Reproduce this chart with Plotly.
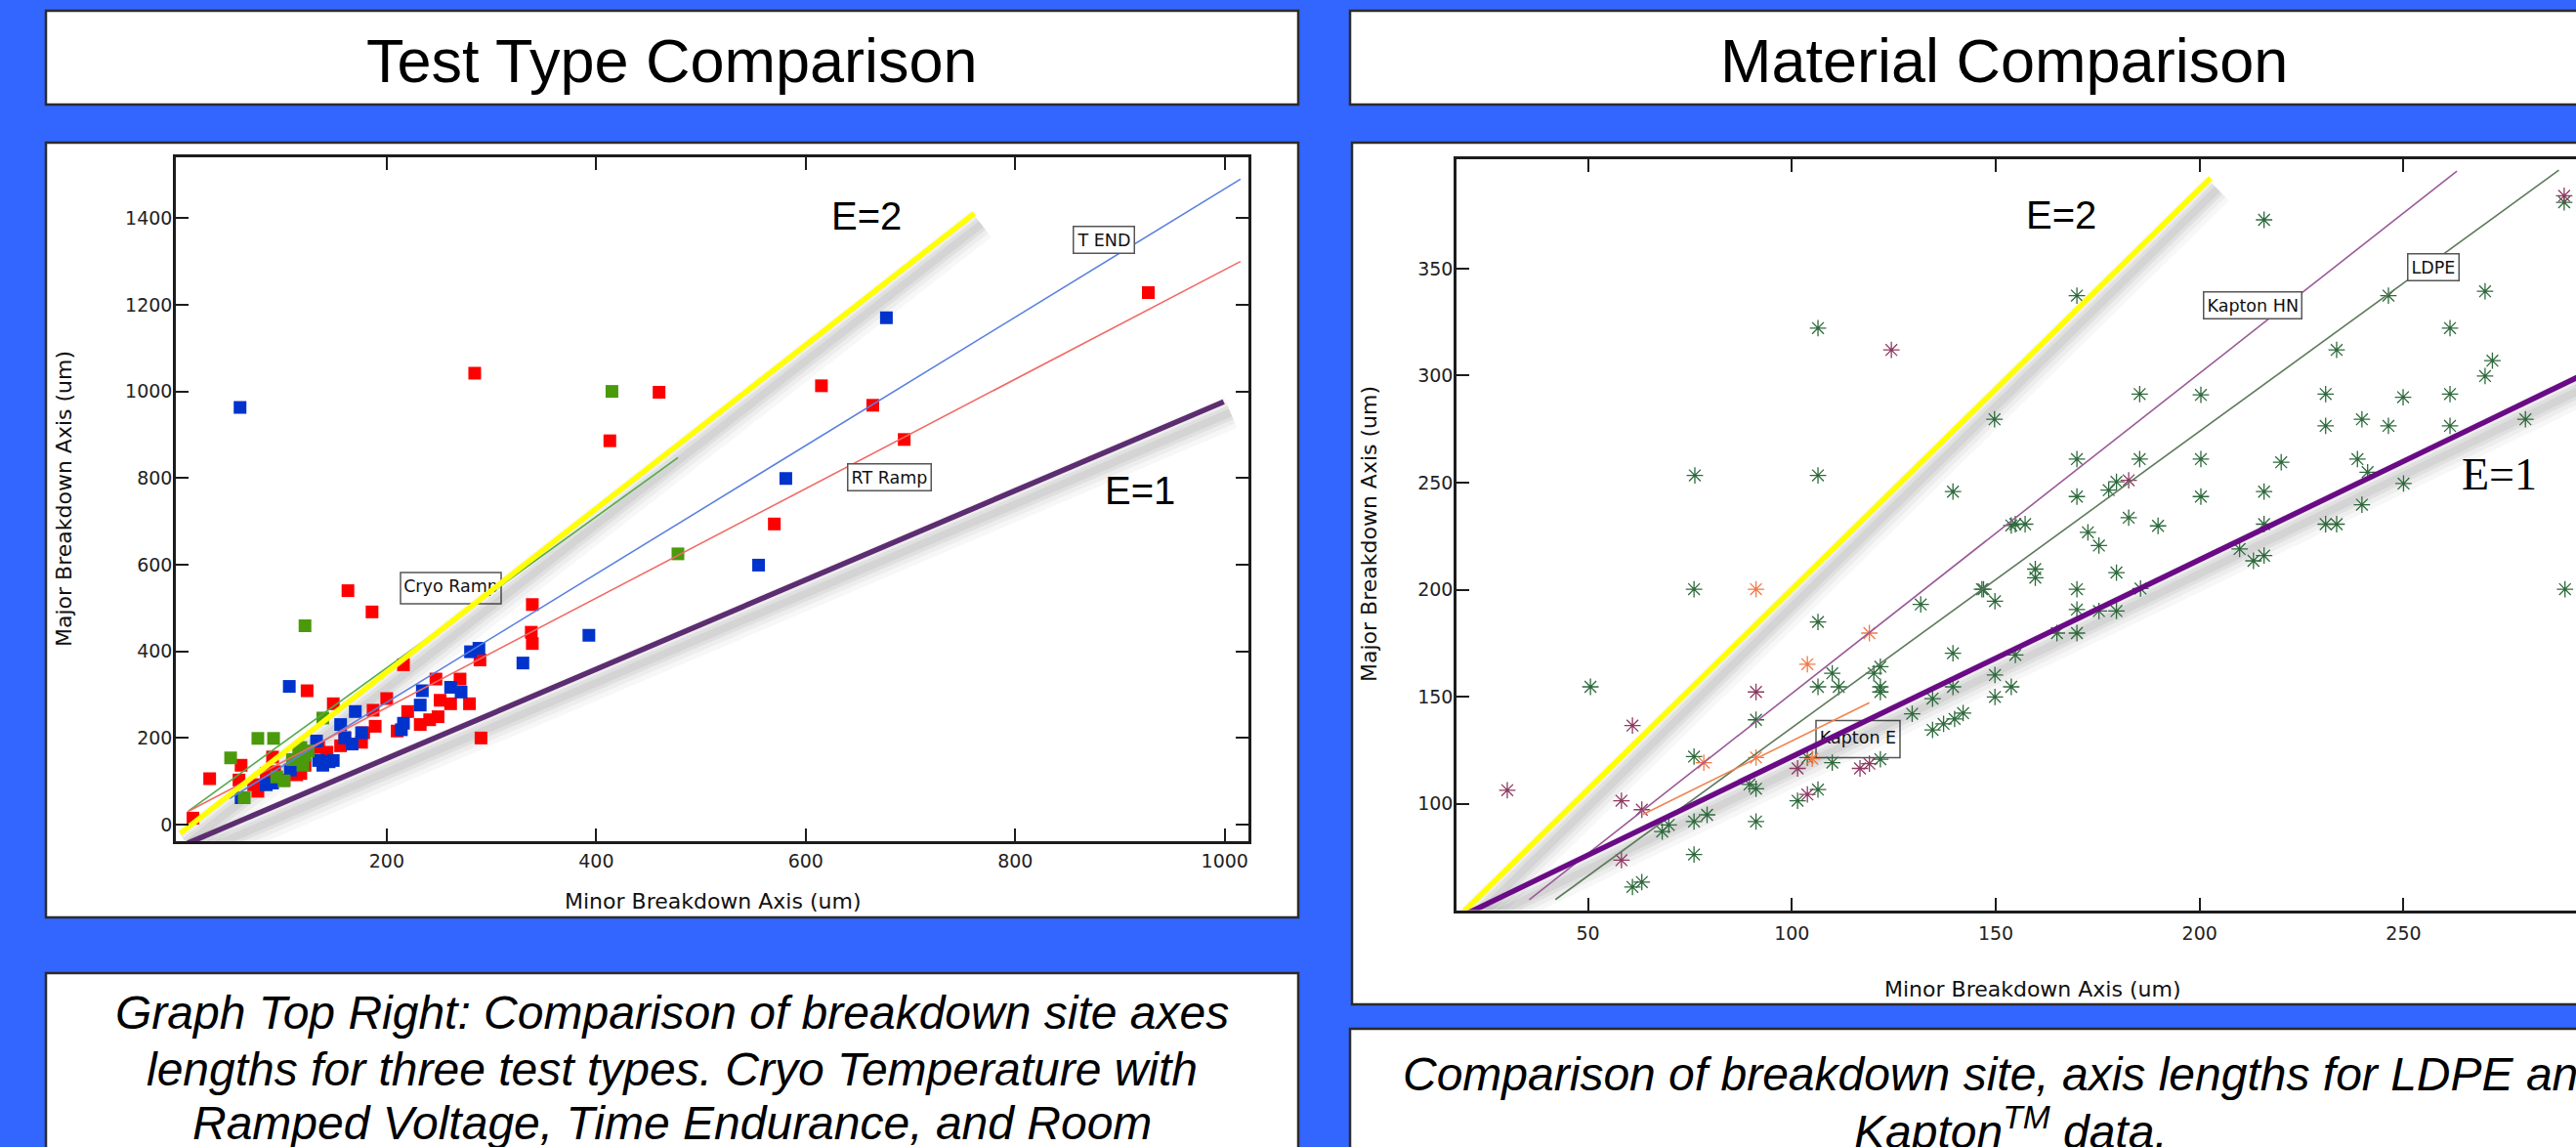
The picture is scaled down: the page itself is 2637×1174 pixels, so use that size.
import plotly.graph_objects as go

W, H = 2637, 1174
BG = "#3366FF"

# ---------------- Test Type Comparison (left) data ----------------
left_x_ticks = [200, 400, 600, 800, 1000]
left_y_ticks = [0, 200, 400, 600, 800, 1000, 1200, 1400]

rt_ramp_x = [15, 31, 61, 59, 77, 91, 93, 102, 118, 124, 135, 143, 149, 156, 163, 176, 186, 187, 189, 200,
             216, 210, 220, 232, 241, 247, 249, 251, 261, 270, 279, 289, 290, 339, 338, 339, 284, 460, 413,
             615, 664, 694, 927, 570, 160, 178, 114, 122, 73, 85]
rt_ramp_y = [15, 106, 137, 103, 77, 156, 122, 103, 118, 309, 178, 167, 279, 182, 540, 190, 491, 264, 227, 291,
             369, 216, 261, 231, 242, 336, 249, 287, 279, 336, 279, 380, 200, 508, 444, 418, 1042, 998, 886,
             1013, 968, 889, 1228, 694, 201, 212, 115, 137, 92, 118]

t_end_x = [61, 91, 107, 108, 133, 139, 149, 156, 167, 170, 176, 214, 216, 232, 234, 261, 271, 280, 288, 330,
           393, 60, 677, 581, 555, 85, 135, 145, 116, 160]
t_end_y = [62, 96, 319, 126, 193, 137, 148, 231, 186, 261, 212, 219, 234, 276, 309, 317, 306, 399, 407, 373,
           437, 963, 1170, 799, 599, 92, 148, 145, 137, 200]

cryo_x = [51, 64, 77, 92, 102, 118, 120, 122, 139, 122, 478, 415, 116, 110, 125, 95]
cryo_y = [154, 62, 199, 199, 101, 178, 137, 459, 246, 160, 625, 1000, 167, 150, 170, 110]

rt_fit_x, rt_fit_y = [10, 1015], [30, 1300]
tend_fit_x, tend_fit_y = [50, 1015], [60, 1490]
cryo_fit_x, cryo_fit_y = [11, 478], [32, 847]
e2_left_x, e2_left_y = [3, 761], [-20, 1411]
e1_left_x, e1_left_y = [10, 999], [-43, 976]

# ---------------- Material Comparison (right) data ----------------
right_x_ticks = [50, 100, 150, 200, 250]
right_y_ticks = [100, 150, 200, 250, 300, 350]

ldpe_x = [50.6, 60.9, 63.2, 68.2, 69.8, 76, 76, 76, 79.2, 76,
          76.2, 91.2, 89.6, 91.2, 91.2, 106.4, 106.4, 106.4, 109.9, 106.4,
          111.5, 103.8, 109.9, 121.7, 106.4, 101.4, 120.1, 121.7, 121.7, 121.7,
          129.5, 134.5, 134.5, 137.2, 139.9, 142, 139.5, 139.5, 131.6, 139.5,
          146.6, 149.8, 149.8, 149.8, 153.8, 153.8, 149.7, 215.8, 169.9, 185.3,
          200.3, 246.3, 270, 261.4, 233.6, 271.8, 270, 230.9, 249.9, 261.4,
          230.9, 239.8, 246.3, 261.4, 279.9, 169.9, 185.3, 200.3, 220, 238.7,
          241.2, 250, 239.8, 169.9, 179.6, 177.7, 200.3, 215.8, 154.8, 157.2,
          182.6, 189.8, 172.6, 215.8, 230.9, 233.6, 289.4, 289.6, 209.8, 213.2,
          215.8, 175.3, 159.7, 159.7, 179.6, 169.9, 169.9, 169.9, 175.3, 179.6,
          185.5, 165, 147, 154.8]
ldpe_y = [154.6, 61.1, 63.4, 87, 90.1, 200.2, 122, 91.7, 94.8, 76.3,
          253.4, 139.2, 109, 107, 91.7, 253.4, 322.2, 184.9, 160.9, 154.6,
          154.6, 121.6, 119.2, 120.8, 106.6, 101.4, 160.9, 164, 154.6, 152.2,
          142, 149.1, 134.5, 137.3, 139.6, 142.3, 170.3, 154.6, 193.1, 245.8,
          200.2, 194.6, 160.1, 149.9, 154.6, 230, 279.6, 372.8, 337.4, 291.4,
          291, 337.4, 339.4, 322.2, 312, 307, 299.8, 291.4, 289.9, 291.4,
          276.5, 279.6, 276.5, 276.5, 279.6, 261, 261, 261, 259.5, 261,
          254.9, 249.6, 239.7, 243.5, 250.4, 246.5, 243.5, 245.8, 230.6, 230.6,
          233.6, 229.8, 226.8, 230.6, 230.6, 230.6, 381, 200.2, 219, 213.5,
          215.9, 220.6, 209.6, 205.6, 208, 200.2, 190.7, 179.7, 190, 190,
          200.5, 179.7, 200.2, 169.5]

hn_x = [30.2, 58.2, 60.9, 63.2, 58.2, 91.2, 101.4, 116.7, 119, 103.8, 124.4, 182.6, 289.4]
hn_y = [106.3, 101.4, 136.5, 97.2, 73.6, 152.2, 116.5, 116.5, 118.7, 104.3, 312, 251.1, 384]

ke_x = [78.4, 91.2, 91.2, 103.8, 119, 105]
ke_y = [119.2, 200.2, 121.6, 165.2, 179.7, 121]

hn_fit_x, hn_fit_y = [35.6, 263.1], [55.2, 395.6]
ldpe_fit_x, ldpe_fit_y = [42, 288.1], [55.2, 396]
ke_fit_x, ke_fit_y = [63.4, 119], [94.9, 147.2]
e2_right_x, e2_right_y = [18.5, 202.7], [47.7, 392.3]
e1_right_x, e1_right_y = [18.5, 300], [47, 306]

# ---------------- layout geometry (pixels) ----------------
L_BOX = dict(x0=180, x1=1278, y0=161, y1=861)
R_BOX = dict(x0=1491, x1=2637, y0=163, y1=931.5)
L_XR, L_YR = [-1.3, 1022.6], [-38.3, 1540.4]
R_XR, R_YR = [17.75, 292.3], [50.3, 401.1]


def px(p):
    return p / W


def py(p):
    return 1 - p / H


def to_data(box, xr, yr, x_px, y_px):
    dx = xr[0] + (x_px - box['x0']) / (box['x1'] - box['x0']) * (xr[1] - xr[0])
    dy = yr[0] + (box['y1'] - y_px) / (box['y1'] - box['y0']) * (yr[1] - yr[0])
    return dx, dy


def units_per_px(box, xr, yr):
    return (xr[1] - xr[0]) / (box['x1'] - box['x0']), (yr[1] - yr[0]) / (box['y1'] - box['y0'])


fig = go.Figure()


def add_shadow(xs, ys, box, xr, yr, xa, ya):
    ux, uy = units_per_px(box, xr, yr)
    sx = [v + 7 * ux for v in xs]
    sy = [v - 11 * uy for v in ys]
    for w, a in [(34, 0.03), (24, 0.04), (15, 0.05), (8, 0.05)]:
        fig.add_trace(go.Scatter(x=sx, y=sy, mode='lines', line=dict(color=f'rgba(0,0,0,{a})', width=w),
                                 hoverinfo='skip', showlegend=False, xaxis=xa, yaxis=ya))


def add_line(xs, ys, color, width, xa, ya):
    fig.add_trace(go.Scatter(x=xs, y=ys, mode='lines', line=dict(color=color, width=width),
                             hoverinfo='skip', showlegend=False, xaxis=xa, yaxis=ya))


# ---- left chart ----
add_shadow(e2_left_x, e2_left_y, L_BOX, L_XR, L_YR, 'x', 'y')
add_shadow(e1_left_x, e1_left_y, L_BOX, L_XR, L_YR, 'x', 'y')

cx, cy = to_data(L_BOX, L_XR, L_YR, 461.5, 602)
fig.add_trace(go.Scatter(x=[cx], y=[cy], mode='text', text=['Cryo Ramp'],
                         textfont=dict(family='DejaVu Sans', size=17.5, color='#111'),
                         hoverinfo='skip', showlegend=False, xaxis='x', yaxis='y'))

for xs, ys, col, name in [(rt_ramp_x, rt_ramp_y, '#FF0000', 'RT Ramp'),
                          (t_end_x, t_end_y, '#0033CC', 'T END'),
                          (cryo_x, cryo_y, '#4A9A0C', 'Cryo Ramp')]:
    fig.add_trace(go.Scatter(x=xs, y=ys, mode='markers', name=name,
                             marker=dict(symbol='square', size=13, color=col, line=dict(width=0)),
                             showlegend=False, xaxis='x', yaxis='y'))

add_line(cryo_fit_x, cryo_fit_y, '#55AA4A', 1.6, 'x', 'y')
add_line(tend_fit_x, tend_fit_y, '#5A80E0', 1.6, 'x', 'y')
add_line(rt_fit_x, rt_fit_y, '#F06A66', 1.6, 'x', 'y')
add_line(e2_left_x, e2_left_y, '#FFFF00', 5.5, 'x', 'y')
add_line(e1_left_x, e1_left_y, '#5C2D70', 5.5, 'x', 'y')

# ---- right chart ----
add_shadow(e2_right_x, e2_right_y, R_BOX, R_XR, R_YR, 'x2', 'y2')
add_shadow(e1_right_x, e1_right_y, R_BOX, R_XR, R_YR, 'x2', 'y2')

kx, ky = to_data(R_BOX, R_XR, R_YR, 1902, 756.5)
fig.add_trace(go.Scatter(x=[kx], y=[ky], mode='text', text=['Kapton E'],
                         textfont=dict(family='DejaVu Sans', size=17.5, color='#111'),
                         hoverinfo='skip', showlegend=False, xaxis='x2', yaxis='y2'))

for xs, ys, col, name in [(ldpe_x, ldpe_y, '#2E6A3C', 'LDPE'),
                          (hn_x, hn_y, '#8E3A62', 'Kapton HN'),
                          (ke_x, ke_y, '#F07A48', 'Kapton E')]:
    fig.add_trace(go.Scatter(x=xs, y=ys, mode='markers', name=name,
                             marker=dict(symbol='asterisk-open', size=14, color=col, line=dict(width=1.3, color=col)),
                             showlegend=False, xaxis='x2', yaxis='y2'))

add_line(hn_fit_x, hn_fit_y, '#9A5A96', 1.6, 'x2', 'y2')
add_line(ldpe_fit_x, ldpe_fit_y, '#5E7A5C', 1.6, 'x2', 'y2')
add_line(ke_fit_x, ke_fit_y, '#F0844E', 1.6, 'x2', 'y2')
add_line(e2_right_x, e2_right_y, '#FFFF00', 5.5, 'x2', 'y2')
add_line(e1_right_x, e1_right_y, '#6A0A86', 5.5, 'x2', 'y2')


# ---------------- boxes ----------------
def rect(x0, y0, x1, y1, lw=2.5, lc='#2b2b2b'):
    return dict(type='rect', xref='paper', yref='paper', x0=px(x0), x1=px(x1), y0=py(y1), y1=py(y0),
                fillcolor='white', line=dict(color=lc, width=lw), layer='below')


shapes = [
    rect(47, 11, 1329, 107), rect(47, 146, 1329, 939), rect(47, 996, 1329, 1200),
    rect(1382, 11, 2720, 107), rect(1384, 146, 2720, 1028), rect(1382, 1053, 2720, 1200),
    rect(410, 586, 513, 618, lw=1.5, lc='#555'),
    rect(1859, 737.5, 1945, 775.5, lw=1.5, lc='#555'),
]


def ann(text, x_px, y_px, size, family='Liberation Sans, Arial', color='black', **kw):
    d = dict(text=text, x=px(x_px), y=py(y_px), xref='paper', yref='paper', showarrow=False,
             font=dict(family=family, size=size, color=color), xanchor='center', yanchor='middle')
    d.update(kw)
    return d


def label_box(text, x_px, y_px):
    return ann(text, x_px, y_px, 17.5, family='DejaVu Sans', color='#111', bgcolor='white',
               bordercolor='#555', borderwidth=1.5, borderpad=3)


cap_font = 'Liberation Sans, Arial'
annotations = [
    ann('Test Type Comparison', 688, 62, 63),
    ann('Material Comparison', 2051, 62, 63),
    ann('<i>Graph Top Right: Comparison of breakdown site axes</i>', 688, 1036, 48, family=cap_font),
    ann('<i>lengths for three test types. Cryo Temperature with</i>', 688, 1094, 48, family=cap_font),
    ann('<i>Ramped Voltage, Time Endurance, and Room</i>', 688, 1149, 48, family=cap_font),
    ann('<i>Comparison of breakdown site, axis lengths for LDPE and</i>', 2051, 1099, 48, family=cap_font),
    ann('<i>Kapton<sup>TM</sup> data.</i>', 2058, 1155, 48, family=cap_font),
    # axis titles
    ann('Major Breakdown Axis (um)', 66, 511, 22, family='DejaVu Sans', color='#111', textangle=-90),
    ann('Minor Breakdown Axis (um)', 729, 922, 22, family='DejaVu Sans', color='#111'),
    ann('Major Breakdown Axis (um)', 1401, 547, 22, family='DejaVu Sans', color='#111', textangle=-90),
    ann('Minor Breakdown Axis (um)', 2080, 1013, 22, family='DejaVu Sans', color='#111'),
    # in-plot labels
    ann('E=2', 887, 221, 40, family='Liberation Sans, Arial, sans-serif'),
    ann('E=1', 1167, 502, 40, family='Liberation Sans, Arial, sans-serif'),
    ann('E=2', 2109.5, 220, 40, family='Liberation Sans, Arial, sans-serif'),
    ann('E=1', 2558.5, 485, 46, family='Liberation Serif, Times New Roman, serif'),
    label_box('T END', 1130, 245),
    label_box('RT Ramp', 910, 488),
    label_box('Kapton HN', 2305.5, 312.3),
    label_box('LDPE', 2491.4, 273),
]


def axis_style(**kw):
    d = dict(showline=True, linecolor='#1c1c1c', linewidth=2.5, ticks='inside', ticklen=13, tickwidth=2,
             tickcolor='#1c1c1c', showgrid=False, zeroline=False,
             tickfont=dict(family='DejaVu Sans', size=19, color='#222'), fixedrange=True)
    d.update(kw)
    return d


fig.update_layout(
    width=W, height=H, autosize=False,
    margin=dict(l=0, r=0, t=0, b=0),
    paper_bgcolor=BG, plot_bgcolor='rgba(0,0,0,0)',
    showlegend=False,
    shapes=shapes, annotations=annotations,
    xaxis=axis_style(domain=[px(L_BOX['x0']), px(L_BOX['x1'])], range=L_XR, tickvals=left_x_ticks,
                     mirror='allticks', anchor='y', ticklabelstandoff=1),
    yaxis=axis_style(domain=[py(L_BOX['y1']), py(L_BOX['y0'])], range=L_YR, tickvals=left_y_ticks,
                     mirror='allticks', anchor='x', ticklabelstandoff=-3),
    xaxis2=axis_style(domain=[px(R_BOX['x0']), 1.0], range=R_XR, tickvals=right_x_ticks,
                      mirror='allticks', anchor='y2', ticklabelstandoff=5),
    yaxis2=axis_style(domain=[py(R_BOX['y1']), py(R_BOX['y0'])], range=R_YR, tickvals=right_y_ticks,
                      mirror=False, anchor='x2', ticklabelstandoff=-3),
)

fig.write_html("out.html", config={'displayModeBar': False},
               post_script="document.body.style.margin='0';document.body.style.overflow='hidden';")
